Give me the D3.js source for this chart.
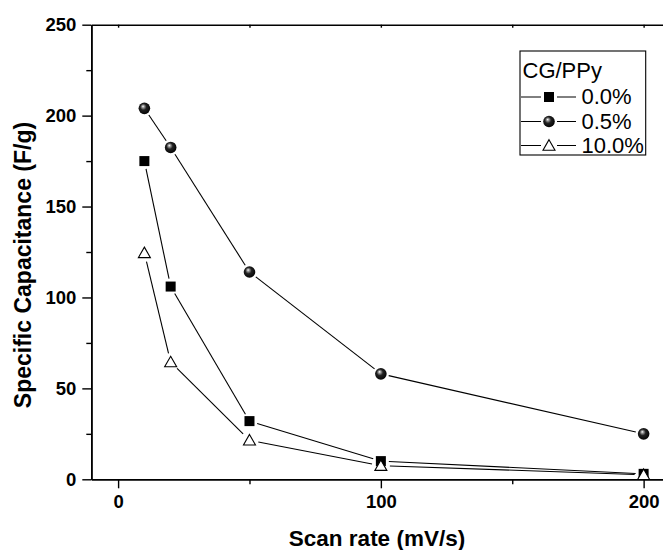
<!DOCTYPE html>
<html>
<head>
<meta charset="utf-8">
<script src="https://cdn.jsdelivr.net/npm/d3@7"></script>
<style>
	body { margin: 0; background: #fff; }
	svg { display: block; }
	text { font-family: "Liberation Sans", Arial, sans-serif; fill: #000; }
</style>
</head>
<body>
<div id="chart"></div>
<script>
var scanRates = [10, 20, 50, 100, 200];
var cap00 = [175, 106, 32, 10, 3];
var cap05 = [204, 182.5, 114, 58, 25];
var cap100 = [124.5, 64.5, 21.5, 7.5, 2.5];
var seriesNames = ["0.0%", "0.5%", "10.0%"];
var seriesSymbols = ["square", "sphere", "triangle"];
var legendTitle = "CG/PPy";
var xTicks = [0, 100, 200],
		xMinor = [50, 150],
		yTicks = [0, 50, 100, 150, 200, 250],
		yMinor = [25, 75, 125, 175, 225];

var width = 663, height = 550;

var svg = d3.select("#chart").append("svg")
	.attr("width", width)
	.attr("height", height);

var defs = svg.append("defs");
var grad = defs.append("radialGradient")
		.attr("id", "ball")
		.attr("cx", "45%").attr("cy", "45%").attr("r", "60%")
		.attr("fx", "38%").attr("fy", "32%");
grad.append("stop").attr("offset", "0%").attr("stop-color", "#fff");
grad.append("stop").attr("offset", "18%").attr("stop-color", "#999");
grad.append("stop").attr("offset", "45%").attr("stop-color", "#222");
grad.append("stop").attr("offset", "100%").attr("stop-color", "#000");

// plot box
var plotLeft = 91.3, plotRight = 672, plotTop = 24.7, plotBottom = 479.3;

var x = d3.scaleLinear().domain([-10.2, 210.8]).range([plotLeft, plotRight]),
		y = d3.scaleLinear().domain([0, 250]).range([plotBottom, plotTop]);

function drawMarker(g, kind, cx, cy) {
	if(kind == "square") {
		g.append("rect")
			.attr("x", cx - 5).attr("y", cy - 5)
			.attr("width", 10).attr("height", 10)
			.attr("fill", "#000");
	} else if(kind == "sphere") {
		g.append("circle")
			.attr("cx", cx).attr("cy", cy).attr("r", 5.8)
			.attr("fill", "url(#ball)");
	} else {
		var h = 10.5, w = 12;
		g.append("path")
			.attr("d", "M" + cx + "," + (cy - h * 0.55) +
				"L" + (cx + w / 2) + "," + (cy + h * 0.45) +
				"L" + (cx - w / 2) + "," + (cy + h * 0.45) + "Z")
			.attr("fill", "#fff")
			.attr("stroke", "#000")
			.attr("stroke-width", 1.1);
	}
}

// axes
var gx = svg.append("g")
	.attr("transform", "translate(0," + plotBottom + ")");
gx.call(d3.axisBottom(x).tickValues(xTicks).tickSize(9).tickSizeOuter(0).tickPadding(7));
gx.append("g").call(d3.axisBottom(x).tickValues(xMinor).tickSize(5).tickSizeOuter(0).tickFormat(""));

var gy = svg.append("g")
	.attr("transform", "translate(" + plotLeft + ",0)");
gy.call(d3.axisLeft(y).tickValues(yTicks).tickSize(9).tickSizeOuter(0).tickPadding(6));
gy.append("g").call(d3.axisLeft(y).tickValues(yMinor).tickSize(5).tickSizeOuter(0).tickFormat(""));

var gt = svg.append("g")
	.attr("transform", "translate(0," + plotTop + ")");
gt.call(d3.axisTop(x).tickValues(xTicks.concat(xMinor)).tickSize(-3).tickSizeOuter(0).tickFormat(""));

svg.selectAll(".domain").attr("stroke-width", 1.6);
svg.selectAll(".tick line").attr("stroke-width", 1.4);
svg.selectAll(".tick text")
	.style("font-size", "18.5px")
	.style("font-weight", "bold");

// series
var allSeries = [cap00, cap05, cap100];
var plot = svg.append("g");

allSeries.forEach(function(values, s) {
	var pts = scanRates.map(function(r, i) {
		return [x(r), y(values[i])];
	});
	var gap = seriesSymbols[s] == "triangle" ? 9 : 8;
	var lines = plot.append("g")
		.attr("stroke", "#000")
		.attr("stroke-width", 1.1);
	for(var i = 0; i < pts.length - 1; i++) {
		var a = pts[i], b = pts[i + 1];
		var dx = b[0] - a[0], dy = b[1] - a[1],
				len = Math.sqrt(dx * dx + dy * dy);
		if(len < gap * 2) continue;
		var ux = dx / len, uy = dy / len;
		lines.append("line")
			.attr("x1", a[0] + ux * gap).attr("y1", a[1] + uy * gap)
			.attr("x2", b[0] - ux * gap).attr("y2", b[1] - uy * gap);
	}
});

allSeries.forEach(function(values, s) {
	var marks = plot.append("g");
	scanRates.forEach(function(r, i) {
		drawMarker(marks, seriesSymbols[s], x(r), y(values[i]));
	});
});

// axis titles
svg.append("text")
	.attr("x", 377)
	.attr("y", 546)
	.attr("text-anchor", "middle")
	.style("font-size", "22.5px")
	.style("font-weight", "bold")
	.text("Scan rate (mV/s)");

svg.append("text")
	.attr("transform", "translate(31,265) rotate(-90)")
	.attr("text-anchor", "middle")
	.style("font-size", "23px")
	.style("font-weight", "bold")
	.text("Specific Capacitance (F/g)");

// legend
var legend = svg.append("g");
legend.append("rect")
	.attr("x", 520).attr("y", 51)
	.attr("width", 125.7).attr("height", 104)
	.attr("fill", "#fff")
	.attr("stroke", "#000")
	.attr("stroke-width", 1.1);

legend.append("text")
	.attr("x", 522.5).attr("y", 78)
	.style("font-size", "22px")
	.text(legendTitle);

var rowBase = [104, 128.5, 152.5];
seriesNames.forEach(function(name, s) {
	var cy = rowBase[s] - 7;
	var row = legend.append("g");
	row.append("line")
		.attr("x1", 521).attr("x2", 541)
		.attr("y1", cy).attr("y2", cy)
		.attr("stroke", "#000").attr("stroke-width", 1);
	row.append("line")
		.attr("x1", 557).attr("x2", 576)
		.attr("y1", cy).attr("y2", cy)
		.attr("stroke", "#000").attr("stroke-width", 1);
	drawMarker(row, seriesSymbols[s], 549, cy);
	row.append("text")
		.attr("x", 581.5).attr("y", rowBase[s])
		.style("font-size", "22px")
		.text(name);
});
</script>
</body>
</html>
